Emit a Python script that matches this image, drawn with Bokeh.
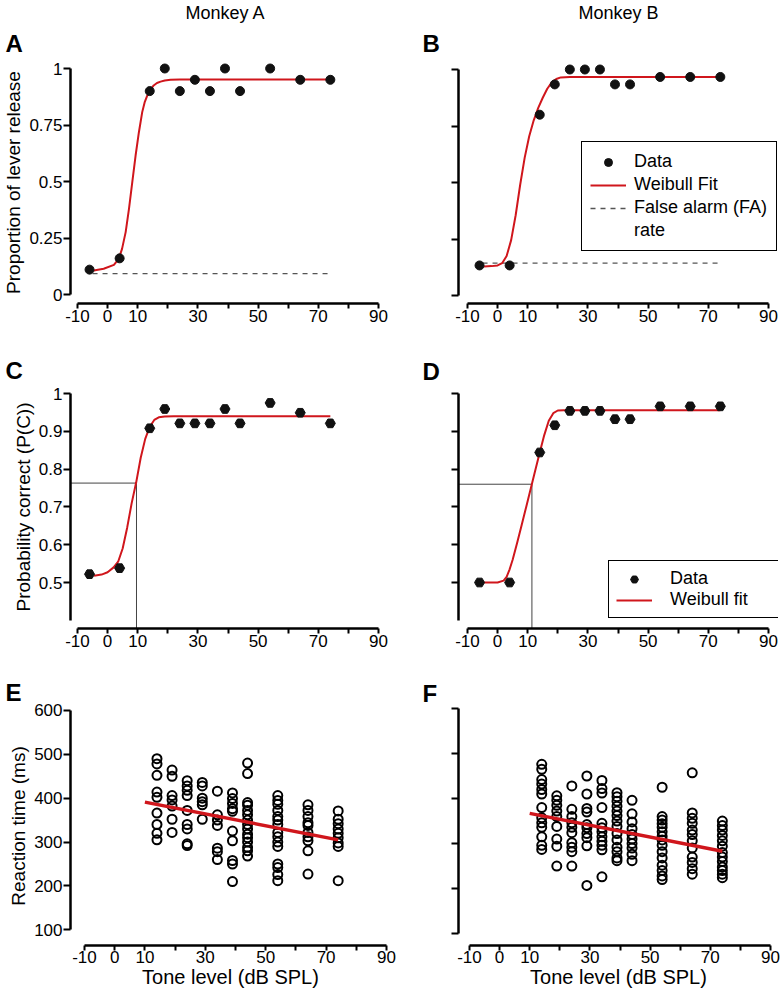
from bokeh.plotting import figure
from bokeh.models import FixedTicker, Legend, LegendItem, Range1d, Title
from bokeh.layouts import column, row
from bokeh.embed import file_html
from bokeh.resources import INLINE

FONT = "Liberation Sans"
RED = "#d0161c"

# ---------------- data ----------------
tone_levels = [-6, 4, 14, 19, 24, 29, 34, 39, 44, 54, 64, 74]

lever_release_a = [0.11, 0.16, 0.90, 1.00, 0.90, 0.95, 0.90, 1.00, 0.90, 1.00, 0.95, 0.95]
lever_release_b = [0.133, 0.133, 0.80, 0.934, 1.00, 1.00, 1.00, 0.934, 0.934, 0.967, 0.967, 0.967]
fa_rate_a = 0.092
fa_rate_b = 0.143
fa_span = [-5, 74]

fit_release_a_x = [-4.6, -1.3, 2.1, 3.7, 4.8, 6.0, 7.1, 8.2, 9.3, 10.4, 11.5, 12.3, 13.2, 14.2, 15.3, 16.4, 17.6, 19.0, 20.9, 24, 74]
fit_release_a_y = [0.106, 0.114, 0.131, 0.158, 0.202, 0.276, 0.379, 0.497, 0.615, 0.718, 0.807, 0.850, 0.881, 0.905, 0.925, 0.936, 0.942, 0.947, 0.950, 0.951, 0.951]

fit_release_b_x = [-4.5, -2, 0, 1.5, 3, 4.5, 6, 7.5, 9, 10.5, 12, 13.5, 15, 16.5, 18, 19.5, 21, 24, 74]
fit_release_b_y = [0.128, 0.130, 0.133, 0.143, 0.175, 0.245, 0.355, 0.49, 0.61, 0.705, 0.775, 0.83, 0.875, 0.915, 0.943, 0.958, 0.965, 0.967, 0.967]

p_correct_a = [0.522, 0.538, 0.908, 0.959, 0.921, 0.921, 0.921, 0.959, 0.921, 0.975, 0.949, 0.921]
p_correct_b = [0.50, 0.50, 0.844, 0.916, 0.954, 0.954, 0.954, 0.932, 0.932, 0.966, 0.966, 0.966]

fit_pc_a_x = [-4.5, -2, 0, 2, 3.5, 5, 6.5, 8, 9.5, 11, 12.5, 14, 15.5, 17, 19, 22, 74]
fit_pc_a_y = [0.518, 0.521, 0.527, 0.54, 0.555, 0.59, 0.645, 0.71, 0.765, 0.83, 0.88, 0.912, 0.93, 0.937, 0.939, 0.94, 0.94]
fit_pc_b_x = [-4.5, 0, 2, 3, 4, 5, 6.5, 8, 9.5, 11, 12.5, 14, 15.5, 17, 18.5, 20, 22, 74]
fit_pc_b_y = [0.5, 0.5, 0.505, 0.515, 0.535, 0.56, 0.605, 0.652, 0.70, 0.748, 0.796, 0.844, 0.89, 0.928, 0.948, 0.955, 0.956, 0.956]

threshold_a = (9.6, 0.763)
threshold_b = (11.4, 0.76)

rt_levels = [14, 19, 24, 29, 34, 39, 44, 54, 64, 74]
rt_a_14 = [490, 478, 452, 414, 402, 366, 340, 320, 305]
rt_a_19 = [464, 450, 406, 396, 382, 352, 322]
rt_a_24 = [440, 428, 418, 406, 372, 340, 330, 296, 292]
rt_a_29 = [436, 428, 400, 392, 385, 352]
rt_a_34 = [416, 362, 350, 338, 286, 278, 260]
rt_a_39 = [412, 399, 388, 376, 370, 325, 303, 258, 250, 210]
rt_a_44 = [480, 456, 390, 384, 372, 362, 350, 340, 330, 318, 310, 300, 288, 280, 268]
rt_a_54 = [406, 395, 386, 372, 358, 350, 340, 322, 312, 300, 290, 250, 242, 226, 212]
rt_a_64 = [385, 372, 358, 344, 338, 322, 312, 303, 280, 227]
rt_a_74 = [371, 352, 342, 330, 320, 310, 298, 290, 212]

rt_b_14 = [476, 465, 442, 432, 420, 410, 380, 357, 346, 336, 315, 296, 287]
rt_b_19 = [406, 396, 385, 372, 360, 338, 310, 294, 250]
rt_b_24 = [428, 376, 360, 346, 336, 324, 302, 292, 282, 250]
rt_b_29 = [450, 410, 378, 370, 342, 335, 322, 313, 295, 207]
rt_b_34 = [440, 422, 412, 380, 345, 335, 326, 315, 305, 296, 286, 226]
rt_b_39 = [413, 404, 394, 383, 372, 362, 350, 338, 322, 308, 292, 282, 268, 262]
rt_b_44 = [396, 366, 348, 333, 320, 310, 300, 290, 276, 262]
rt_b_54 = [425, 360, 352, 344, 336, 326, 316, 308, 296, 282, 268, 252, 240, 228, 220]
rt_b_64 = [457, 368, 356, 345, 330, 320, 306, 290, 270, 258, 244, 232]
rt_b_74 = [350, 340, 330, 318, 306, 294, 280, 270, 260, 248, 240, 232, 224]

reg_a_x = [10, 74]
reg_a_y = [391, 305]
reg_b_x = [10, 74]
reg_b_y = [367, 283]

x_ticks = [-10, 0, 10, 20, 30, 40, 50, 60, 70, 80, 90]
x_tick_labels = ["-10", "0", "10", "", "30", "", "50", "", "70", "", "90"]
y_ticks_release = [0, 0.25, 0.5, 0.75, 1]
y_labels_release = ["0", "0.25", "0.5", "0.75", "1"]
y_ticks_pc = [0.5, 0.6, 0.7, 0.8, 0.9, 1.0]
y_labels_pc = ["0.5", "0.6", "0.7", "0.8", "0.9", "1"]
y_ticks_rt = [100, 200, 300, 400, 500, 600]
y_labels_rt = ["100", "200", "300", "400", "500", "600"]


# ---------------- helpers ----------------
def make_fig(fig, frame, xref, yref):
    fl, ft, fw, fh = fig
    L, R, T, B = frame
    (xv1, xp1), (xv2, xp2) = xref
    (yv1, yp1), (yv2, yp2) = yref
    kx = (xp2 - xp1) / (xv2 - xv1)
    ky = (yp2 - yp1) / (yv2 - yv1)

    def px2x(px):
        return xv1 + (px - xp1) / kx

    def py2y(py):
        return yv1 + (py - yp1) / ky

    p = figure(width=fw, height=fh,
               x_range=Range1d(px2x(L), px2x(R)),
               y_range=Range1d(py2y(B), py2y(T)),
               min_border_left=L - fl, min_border_right=fl + fw - R,
               min_border_top=T - ft, min_border_bottom=ft + fh - B,
               title_location=None,
               output_backend="svg", toolbar_location=None, tools="")
    p.outline_line_color = None
    p.xgrid.visible = False
    p.ygrid.visible = False
    p.background_fill_color = "white"
    p.border_fill_color = "white"
    return p


def style_axes(p, xbounds, yticks, ylabels, ybounds, show_y_labels, ylabel=None, xlabel=None):
    xa = p.xaxis[0]
    xa.ticker = FixedTicker(ticks=x_ticks)
    xa.major_label_overrides = {t: l for t, l in zip(x_ticks, x_tick_labels)}
    xa.bounds = xbounds
    ya = p.yaxis[0]
    ya.ticker = FixedTicker(ticks=yticks)
    if show_y_labels:
        ya.major_label_overrides = {t: l for t, l in zip(yticks, ylabels)}
    else:
        ya.major_label_overrides = {t: "" for t in yticks}
    ya.bounds = ybounds
    for ax in (xa, ya):
        ax.axis_line_color = "black"
        ax.axis_line_width = 2.5
        ax.major_tick_line_color = "black"
        ax.major_tick_line_width = 2
        ax.major_tick_in = 0
        ax.minor_tick_line_color = None
        ax.major_label_text_font = FONT
        ax.major_label_text_font_size = "17px"
        ax.major_label_text_color = "black"
        ax.axis_label_text_font = FONT
        ax.axis_label_text_font_style = "normal"
        ax.axis_label_text_color = "black"
    xa.major_tick_out = 5
    ya.major_tick_out = 7
    xa.major_label_standoff = 1
    ya.major_label_standoff = 1
    if ylabel:
        ya.axis_label = ylabel
        ya.axis_label_text_font_size = "19px"
        ya.axis_label_standoff = 2
    if xlabel:
        xa.major_label_standoff = 0
        xa.axis_label = xlabel
        xa.axis_label_text_font_size = "20px"
        xa.axis_label_standoff = 0


def add_title(p, text, size, bold, align, offset, standoff):
    p.add_layout(Title(text=text, align=align, offset=offset, standoff=standoff,
                       text_font=FONT, text_font_size=f"{size}px",
                       text_font_style="bold" if bold else "normal",
                       text_color="black", vertical_align="bottom"), "above")


def style_legend(lg, label_height, label_standoff, label_width, padding):
    lg.label_text_font = FONT
    lg.label_text_font_size = "18px"
    lg.label_text_color = "black"
    lg.glyph_width = 36
    lg.glyph_height = 20
    lg.label_height = label_height
    lg.label_standoff = label_standoff
    lg.label_width = label_width
    lg.padding = padding
    lg.spacing = 0
    lg.margin = 0
    lg.border_line_color = "black"
    lg.border_line_alpha = 1
    lg.border_line_width = 1.5
    lg.background_fill_color = "white"
    lg.background_fill_alpha = 1


# ---------------- panels ----------------
# Panel A
pA = make_fig((0, 0, 390, 330), (70, 380, 61, 303),
              ((-10, 77), (90, 378)), ((0, 294), (1, 68)))
style_axes(pA, (-10, 90), y_ticks_release, y_labels_release, (0, 1), True,
           ylabel="Proportion of lever release")
pA.line(fa_span, [fa_rate_a, fa_rate_a], line_color="#555555", line_width=1.3, line_dash="5 5")
pA.line(fit_release_a_x, fit_release_a_y, line_color=RED, line_width=2)
pA.scatter(tone_levels, lever_release_a, marker="circle", size=9, color="#111111")
add_title(pA, "A", 24, True, "left", -65, 10)
add_title(pA, "Monkey A", 18, False, "center", -1, 0)

# Panel B
pB = make_fig((390, 0, 390, 330), (458, 778, 61, 303),
              ((-10, 467), (90, 768)), ((0, 295), (1, 69)))
style_axes(pB, (-10, 90), y_ticks_release, y_labels_release, (0, 1), False)
rB_fa = pB.line(fa_span, [fa_rate_b, fa_rate_b], line_color="#555555", line_width=1.3, line_dash="5 5")
rB_fit = pB.line(fit_release_b_x, fit_release_b_y, line_color=RED, line_width=2)
rB_pts = pB.scatter(tone_levels, lever_release_b, marker="circle", size=9, color="#111111")
rB_rate = pB.line(x=[], y=[], line_alpha=0)
add_title(pB, "B", 24, True, "left", -36, 10)
add_title(pB, "Monkey B", 18, False, "center", -23, 0)
legB = Legend(items=[LegendItem(label="Data", renderers=[rB_pts]),
                     LegendItem(label="Weibull Fit", renderers=[rB_fit]),
                     LegendItem(label="False alarm (FA)", renderers=[rB_fa]),
                     LegendItem(label="rate", renderers=[rB_rate])],
              location=(123, 52))
style_legend(legB, 23, 8, 134, 8)
pB.add_layout(legB)

# Panel C
pC = make_fig((0, 330, 390, 325), (70, 380, 385, 628),
              ((-10, 77), (90, 378)), ((0.5, 582), (1, 393)))
style_axes(pC, (-10, 90), y_ticks_pc, y_labels_pc, (0.4, 1), True,
           ylabel="Probability correct (P(C))")
pC.line([pC.x_range.start, threshold_a[0], threshold_a[0]],
        [threshold_a[1], threshold_a[1], pC.y_range.start],
        line_color="#444444", line_width=1)
pC.line(fit_pc_a_x, fit_pc_a_y, line_color=RED, line_width=2)
pC.scatter(tone_levels, p_correct_a, marker="hex", size=10, color="#111111")
add_title(pC, "C", 24, True, "left", -65, 3)

# Panel D
pD = make_fig((390, 330, 390, 325), (458, 778, 385, 628),
              ((-10, 467), (90, 768)), ((0.5, 582), (1, 393)))
style_axes(pD, (-10, 90), y_ticks_pc, y_labels_pc, (0.4, 1), False)
pD.line([pD.x_range.start, threshold_b[0], threshold_b[0]],
        [threshold_b[1], threshold_b[1], pD.y_range.start],
        line_color="#444444", line_width=1)
rD_fit = pD.line(fit_pc_b_x, fit_pc_b_y, line_color=RED, line_width=2)
rD_pts = pD.scatter(tone_levels, p_correct_b, marker="hex", size=10, color="#111111")
add_title(pD, "D", 24, True, "left", -36, 1)
legD = Legend(items=[LegendItem(label="Data", renderers=[rD_pts]),
                     LegendItem(label="Weibull fit", renderers=[rD_fit])],
              location=(150, 10))
style_legend(legD, 20, 18, 108, 7)
pD.add_layout(legD)

# Panels E and F
rt_a_lists = [rt_a_14, rt_a_19, rt_a_24, rt_a_29, rt_a_34, rt_a_39, rt_a_44, rt_a_54, rt_a_64, rt_a_74]
rt_b_lists = [rt_b_14, rt_b_19, rt_b_24, rt_b_29, rt_b_34, rt_b_39, rt_b_44, rt_b_54, rt_b_64, rt_b_74]


def flatten(levels, lists):
    xs, ys = [], []
    for lvl, vals in zip(levels, lists):
        xs += [lvl] * len(vals)
        ys += list(vals)
    return xs, ys


pE = make_fig((0, 655, 400, 348), (70, 390, 706, 950),
              ((-10, 84), (90, 386)), ((100, 934), (600, 710)))
style_axes(pE, (-10, 90), y_ticks_rt, y_labels_rt, (100, 600), True,
           ylabel="Reaction time (ms)", xlabel="Tone level (dB SPL)")
exs, eys = flatten(rt_levels, rt_a_lists)
pE.scatter(exs, eys, marker="circle", size=9, fill_color=None, line_color="black", line_width=2)
pE.line(reg_a_x, reg_a_y, line_color=RED, line_width=3.5)
add_title(pE, "E", 24, True, "left", -65, 1)

pF = make_fig((400, 655, 380, 348), (458, 778, 705, 945),
              ((-10, 469), (90, 770)), ((100, 933), (600, 707)))
style_axes(pF, (-10, 90), y_ticks_rt, y_labels_rt, (100, 600), False,
           xlabel="Tone level (dB SPL)")
fxs, fys = flatten(rt_levels, rt_b_lists)
pF.scatter(fxs, fys, marker="circle", size=9, fill_color=None, line_color="black", line_width=2)
pF.line(reg_b_x, reg_b_y, line_color=RED, line_width=3.5)
add_title(pF, "F", 24, True, "left", -36, 0)

layout = column(row(pA, pB), row(pC, pD), row(pE, pF))
open("out.html", "w").write(file_html(layout, INLINE))
